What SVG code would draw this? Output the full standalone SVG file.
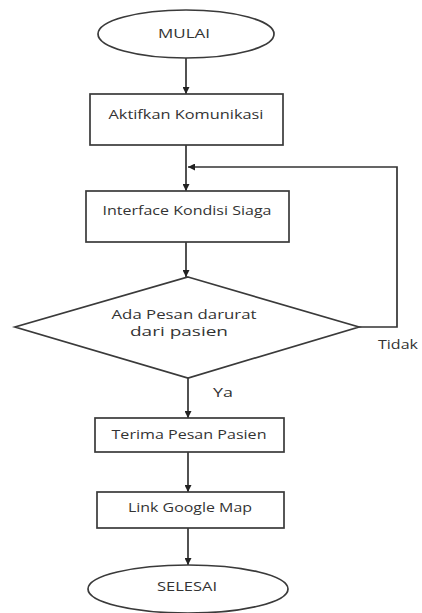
<svg xmlns="http://www.w3.org/2000/svg" width="422" height="613" viewBox="0 0 422 613">
<defs>
<marker id="ah" viewBox="0 0 10 10" refX="10" refY="5" markerWidth="7" markerHeight="7" markerUnits="userSpaceOnUse" orient="auto">
<path d="M0,0 L10,5 L0,10 z" fill="#222"/>
</marker>
<style>
.s{fill:#fff;stroke:#3a3a3a;stroke-width:1.7}
.c{fill:none;stroke:#333;stroke-width:1.7}
.t{font-family:"Open Sans","Liberation Sans",sans-serif;font-size:12px;fill:#333;text-anchor:middle}
</style>
</defs>
<rect width="422" height="613" fill="#fff"/>
<g id="connectors">
<line class="c" x1="186" y1="58" x2="186" y2="94" marker-end="url(#ah)"/>
<line class="c" x1="186" y1="145" x2="186" y2="191" marker-end="url(#ah)"/>
<line class="c" x1="186" y1="242" x2="186" y2="277" marker-end="url(#ah)"/>
<polyline class="c" points="359,327 397,327 397,167 188,167" marker-end="url(#ah)"/>
<line class="c" x1="188" y1="378" x2="188" y2="418" marker-end="url(#ah)"/>
<line class="c" x1="188" y1="452" x2="188" y2="492" marker-end="url(#ah)"/>
<line class="c" x1="188" y1="528" x2="188" y2="565" marker-end="url(#ah)"/>
<text class="t" x="398" y="349" textLength="40" lengthAdjust="spacingAndGlyphs">Tidak</text>
<text class="t" x="223" y="397" textLength="20" lengthAdjust="spacingAndGlyphs">Ya</text>
</g>
<g id="mulai">
<ellipse class="s" cx="186" cy="34" rx="88" ry="24"/>
<text class="t" x="184" y="38" textLength="52" lengthAdjust="spacingAndGlyphs">MULAI</text>
</g>
<g id="aktifkan">
<rect class="s" x="90" y="94" width="193" height="51"/>
<text class="t" x="186" y="119" textLength="155" lengthAdjust="spacingAndGlyphs">Aktifkan Komunikasi</text>
</g>
<g id="interface">
<rect class="s" x="86" y="191" width="203" height="51"/>
<text class="t" x="187" y="215" textLength="169" lengthAdjust="spacingAndGlyphs">Interface Kondisi Siaga</text>
</g>
<g id="keputusan">
<polygon class="s" points="188,277 359,327 188,378 15,327"/>
<text class="t" x="184" y="319" textLength="145" lengthAdjust="spacingAndGlyphs">Ada Pesan darurat</text>
<text class="t" x="179" y="336" textLength="98" lengthAdjust="spacingAndGlyphs">dari pasien</text>
</g>
<g id="terima">
<rect class="s" x="95" y="418" width="189" height="34"/>
<text class="t" x="189" y="439" textLength="155" lengthAdjust="spacingAndGlyphs">Terima Pesan Pasien</text>
</g>
<g id="link">
<rect class="s" x="97" y="492" width="187" height="36"/>
<text class="t" x="190" y="512" textLength="124" lengthAdjust="spacingAndGlyphs">Link Google Map</text>
</g>
<g id="selesai">
<ellipse class="s" cx="188" cy="589" rx="100" ry="24"/>
<text class="t" x="187" y="591" textLength="60" lengthAdjust="spacingAndGlyphs">SELESAI</text>
</g>
</svg>
